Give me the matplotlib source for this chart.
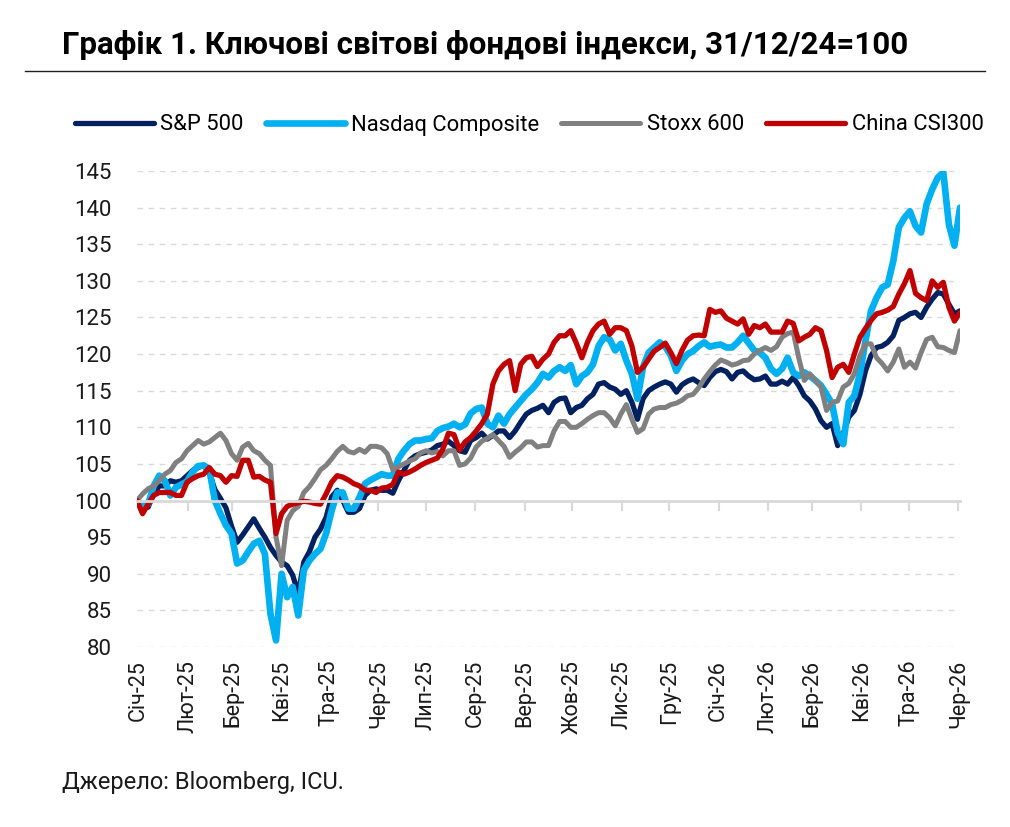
import matplotlib
matplotlib.use('Agg')
import matplotlib.pyplot as plt
from matplotlib.lines import Line2D
import pandas as pd

# index values, 31/12/24 = 100, every 3.5 days
sp500 = [100, 98.9, 99.1, 100.9, 102, 102, 102.7, 102.5, 102.7, 103.4,
         104.1, 104.5, 104.8, 103.8, 101.5, 100.3, 99, 96.5, 94.3, 95.3,
         96.4, 97.5, 96.2, 95, 93.6, 92.5, 91.6, 91.1, 89.8, 87.3,
         91.6, 93, 95, 96.1, 97.7, 100.5, 101.4, 100, 98.4, 98.4,
         98.9, 100.7, 101.4, 101.6, 101.4, 101.4, 101, 102.7, 104.1, 105.5,
         106.1, 106.4, 106.6, 106.9, 107.5, 107.7, 108.1, 107.5, 106.8, 106.6,
         108.2, 108.6, 109.2, 108.4, 108.9, 109.5, 109.5, 108.6, 109.5, 110.7,
         111.8, 112.3, 112.6, 113, 112, 113.4, 113.9, 114, 112, 112.7,
         113, 113.9, 114.5, 115.9, 116.1, 115.5, 115.2, 114.5, 115, 113.4,
         111.1, 113.9, 115, 115.5, 115.9, 116.2, 115.9, 114.8, 115.8, 116.3,
         116.6, 116.1, 115.7, 116.8, 117.6, 117.9, 117.6, 116.6, 117.5, 117.7,
         117, 116.5, 116.6, 117, 115.9, 115.9, 116.3, 115.9, 116.8, 115.7,
         114.3, 113.6, 112.5, 110.9, 110, 110.5, 107.5, 109.1, 111.4, 112.3,
         114.5, 117.7, 119.8, 120.9, 121.1, 121.6, 122.5, 124.6, 125, 125.5,
         125.7, 125, 126.4, 127.5, 128.4, 128.2, 126.8, 125.5, 125.9]

nasdaq = [100, 99.3, 99.5, 102, 103.4, 102.7, 100.7, 101.8, 102.2, 102.6,
          103.9, 104.7, 104.8, 104.3, 100, 98.2, 96.6, 95.5, 91.4, 91.8,
          93, 94.1, 94.5, 92.7, 84.5, 80.9, 90, 86.8, 88.2, 84.3,
          90.5, 91.8, 92.7, 93.4, 95.5, 98.6, 101.1, 101.1, 98.9, 98.9,
          100.4, 102.3, 102.8, 103.2, 103.6, 103.4, 103.4, 105.7, 106.8, 107.7,
          108.2, 108.2, 108.4, 108.5, 109.5, 109.9, 110.1, 110.5, 110, 110.4,
          111.9, 112.5, 112.7, 110.5, 110, 111.6, 110.5, 111.8, 112.7, 113.6,
          114.5, 115.2, 116.1, 117.3, 116.8, 117.7, 118.2, 117.7, 118.5, 115.9,
          117, 117.5, 118.6, 121.1, 122.3, 122, 120.5, 121.4, 119.1, 117.3,
          113.9, 118.2, 120.2, 120.9, 121.6, 121, 119.8, 117.7, 119.1, 120,
          120.4, 121.1, 121.6, 121, 121.2, 121.3, 120.9, 120.9, 121.6, 122.5,
          121.5, 120.5, 120.2, 119.5, 118, 117.3, 118, 119.5, 117.5, 117,
          117.5, 117, 116.4, 115.7, 114.5, 113.2, 109.3, 107.7, 113.4, 114.3,
          117.3, 121.8, 125.9, 127.7, 129.1, 129.5, 132.7, 137.3, 138.6, 139.5,
          137.5, 136.6, 140.5, 142.5, 144.1, 144.8, 137.7, 134.8, 140]

stoxx = [100, 100.9, 101.6, 102, 102.7, 103.6, 104.1, 105.2, 105.7, 106.8,
         107.5, 108.2, 107.7, 108, 108.6, 109.2, 108.2, 106.4, 105.5, 107.3,
         107.8, 106.8, 106.4, 105.5, 104.8, 95, 91.1, 97.3, 98.6, 99.2,
         101.1, 101.9, 103, 104.2, 104.8, 105.7, 106.7, 107.4, 106.7, 106.5,
         107, 106.6, 107.4, 107.4, 107.2, 106.4, 104.2, 104.6, 105, 105.4,
         105.7, 106.5, 106.8, 106.5, 106.7, 106.1, 106.8, 106.8, 104.8, 105,
         105.8, 107.3, 108.1, 108.5, 109, 108.2, 107.4, 105.9, 106.6, 107.2,
         108, 108, 107.3, 107.5, 107.5, 109.5, 110.8, 110.8, 110, 110,
         110.5, 111.1, 111.6, 112, 112, 111.3, 110.2, 111.8, 113.1, 111.1,
         109.3, 109.8, 111.8, 112.5, 112.7, 112.7, 113.1, 113.3, 113.7, 114.3,
         114.5, 115.4, 116.6, 117.6, 118.5, 119.2, 118.9, 118.5, 118.7, 119.1,
         119.2, 120, 120.5, 120.9, 120.5, 121, 122.3, 122.8, 123, 119.5,
         116.4, 117.3, 116.4, 115.5, 112.3, 113.4, 113.6, 115.5, 116, 117.3,
         119.8, 121.4, 121.4, 119.5, 118.7, 117.7, 118.9, 120.7, 118.2, 118.9,
         118.1, 120.2, 122, 122.3, 121, 120.9, 120.5, 120.2, 123.2]

csi300 = [100, 98.2, 99.5, 100.7, 101.1, 101.1, 101.1, 100.7, 100.7, 102.5,
          103, 103.4, 103.6, 104.5, 103.6, 103.4, 102.5, 103.4, 103.3, 105.5,
          105.5, 103.2, 103.3, 102.8, 102.5, 95.5, 98.2, 99.2, 99.5, 99.7,
          99.9, 99.8, 99.6, 99.5, 100.9, 102.5, 103.4, 103.2, 102.8, 102.3,
          102, 101.4, 101.4, 101.1, 101.7, 101.8, 102.2, 103.9, 103.6, 103.9,
          104.3, 104.8, 105.2, 105.5, 105.8, 107, 109.2, 109, 106.9, 108,
          108.6, 109.5, 110.5, 111.8, 115.9, 117.7, 118.6, 119.1, 115, 118.6,
          119.5, 119.7, 118.3, 119.3, 120, 121.6, 122.5, 122.5, 123.2, 121.5,
          119.5, 121.6, 123.2, 124.1, 124.5, 122.7, 123.6, 123.6, 123.2, 121.1,
          117.5, 118.2, 119.3, 120.4, 120.9, 121.5, 120.2, 118.7, 120.5, 121.9,
          122.5, 122.6, 122.5, 126.1, 125.7, 125.9, 124.9, 124.5, 124.1, 124.8,
          122.7, 123.9, 123.6, 124.1, 123, 123, 123, 124.5, 124.2, 121.8,
          122.3, 122.7, 123.6, 123.2, 120.5, 116.8, 118.2, 118.6, 117.5, 120,
          122.3, 123.5, 124.6, 125.5, 125.7, 126, 126.5, 128.2, 129.6, 131.4,
          128.3, 127.7, 127.3, 130, 129.1, 129.8, 126.4, 124.5, 125.7]

series_names = ['S&P 500', 'Nasdaq Composite', 'Stoxx 600', 'China CSI300']
month_labels = ['Січ-25', 'Лют-25', 'Бер-25', 'Кві-25', 'Тра-25', 'Чер-25',
                'Лип-25', 'Сер-25', 'Вер-25', 'Жов-25', 'Лис-25', 'Гру-25',
                'Січ-26', 'Лют-26', 'Бер-26', 'Кві-26', 'Тра-26', 'Чер-26']

# no condensed face installed, Roboto is the narrowest of what we have
plt.rcParams['font.family'] = ['Roboto', 'DejaVu Sans']

dates = pd.date_range('2024-12-31', periods=len(sp500), freq='84h')
month_starts = pd.date_range('2025-01-01', periods=len(month_labels), freq='MS')

fig = plt.figure(figsize=(10.1, 8.27), dpi=100)
ax = fig.add_axes([137 / 1010, 1 - 647 / 827, 823 / 1010, 476 / 827])

colors = ['#002060', '#00b0f0', '#808080', '#c00000']
widths = [3.8, 4.8, 3.6, 3.8]
for vals, name, c, w in zip([sp500, nasdaq, stoxx, csi300], series_names, colors, widths):
    ax.plot(dates, vals, color=c, lw=w, label=name, solid_capstyle='round',
            solid_joinstyle='round')

ax.set_xlim(pd.Timestamp('2024-12-31'), dates[-1])
ax.set_ylim(80, 145)
ax.set_yticks(range(80, 150, 5))
ax.yaxis.grid(True, linestyle=(0, (4, 4)), color='#d9d9d9', lw=1)
ax.set_axisbelow(True)

for s in ['top', 'right', 'left']:
    ax.spines[s].set_visible(False)
# the 100 line carries the month ticks
ax.spines['bottom'].set_position(('data', 100))
ax.spines['bottom'].set_color('#d9d9d9')
ax.spines['bottom'].set_linewidth(2)
ax.set_xticks(month_starts)
ax.tick_params(axis='x', length=7, width=1.5, color='#d9d9d9', labelbottom=False)
ax.tick_params(axis='y', length=0, pad=18, labelsize=16, labelcolor='#1a1a1a')

for d, lab in zip(month_starts, month_labels):
    ax.text(d, -0.027, lab, transform=ax.get_xaxis_transform(), rotation=90,
            ha='center', va='top', fontsize=15.5, color='#1a1a1a')

fig.legend(loc='center', bbox_to_anchor=(0.524, 1 - 125 / 827), ncol=4,
           frameon=False, fontsize=15.8, handlelength=3.6, handletextpad=0.3,
           columnspacing=1.0)

fig.text(62 / 1010, 1 - 45 / 827, 'Графік 1. Ключові світові фондові індекси, 31/12/24=100',
         fontsize=22.5, fontweight='bold', va='center', ha='left')
fig.add_artist(Line2D([25 / 1010, 985 / 1010], [1 - 71 / 827, 1 - 71 / 827],
                      color='#222222', lw=1))
fig.text(62 / 1010, 1 - 782 / 827, 'Джерело: Bloomberg, ICU.', fontsize=17,
         va='center', ha='left', color='#1a1a1a')

fig.savefig('out.png', dpi=100)
